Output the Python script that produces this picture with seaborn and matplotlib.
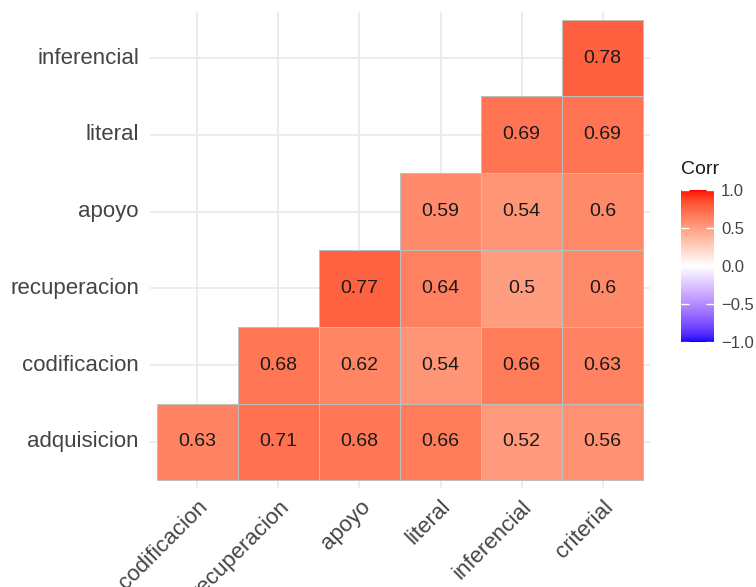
import numpy as np
import pandas as pd
import matplotlib
matplotlib.use("Agg")
import matplotlib.pyplot as plt
from matplotlib.colors import ListedColormap, to_rgba
import seaborn as sns

cols = ["codificacion", "recuperacion", "apoyo", "literal", "inferencial", "criterial"]
rows = ["inferencial", "literal", "apoyo", "recuperacion", "codificacion", "adquisicion"]
r_inferencial = [np.nan, np.nan, np.nan, np.nan, np.nan, 0.78]
r_literal = [np.nan, np.nan, np.nan, np.nan, 0.69, 0.69]
r_apoyo = [np.nan, np.nan, np.nan, 0.59, 0.54, 0.60]
r_recuperacion = [np.nan, np.nan, 0.77, 0.64, 0.50, 0.60]
r_codificacion = [np.nan, 0.68, 0.62, 0.54, 0.66, 0.63]
r_adquisicion = [0.63, 0.71, 0.68, 0.66, 0.52, 0.56]

corr = pd.DataFrame([r_inferencial, r_literal, r_apoyo, r_recuperacion,
                     r_codificacion, r_adquisicion], index=rows, columns=cols)


# blue-white-red gradient interpolated in CIELAB, like ggplot's gradient2
def lab_to_rgb(lab):
    L, a, b = lab[:, 0], lab[:, 1], lab[:, 2]
    fy = (L + 16) / 116
    fx = fy + a / 500
    fz = fy - b / 200

    def finv(t):
        d = 6 / 29
        return np.where(t > d, t ** 3, 3 * d * d * (t - 4 / 29))

    xyz = np.stack([0.95047 * finv(fx), finv(fy), 1.08883 * finv(fz)], axis=1)
    m = np.array([[3.2406, -1.5372, -0.4986],
                  [-0.9689, 1.8758, 0.0415],
                  [0.0557, -0.2040, 1.0570]])
    lin = xyz @ m.T
    lin = np.clip(lin, 0, 1)
    rgb = np.where(lin <= 0.0031308, 12.92 * lin, 1.055 * lin ** (1 / 2.4) - 0.055)
    return np.clip(rgb, 0, 1)


blue = np.array([32.30, 79.19, -107.86])
white = np.array([100.0, 0.0, 0.0])
red = np.array([53.24, 80.09, 67.20])
t = np.linspace(0, 1, 128)[:, None]
labs = np.vstack([blue + (white - blue) * t, white + (red - white) * t])
cmap = ListedColormap(lab_to_rgb(labs))

plt.rcParams["font.family"] = ["Liberation Sans", "DejaVu Sans"]

fig = plt.figure(figsize=(7.56, 5.87), dpi=100)
ax = fig.add_axes([150 / 756, 99 / 587, 500 / 756, 476 / 587])
cax = fig.add_axes([681 / 756, 245 / 587, 33 / 756, 152 / 587])

sns.heatmap(corr, ax=ax, cmap=cmap, vmin=-1, vmax=1, annot=True, fmt="g",
            annot_kws={"fontsize": 14, "color": "#1a1a1a"},
            linewidths=0.5, linecolor="#bebebe", cbar_ax=cax,
            cbar_kws={"ticks": [-1, -0.5, 0, 0.5, 1]})

# no outline on the empty upper triangle
mesh = ax.collections[0]
empty = corr.isna().values.ravel()
edge = np.array([to_rgba("#bebebe")] * len(empty))
edge[empty] = (0, 0, 0, 0)
mesh.set_edgecolors(edge)

ax.set_xlim(-0.086, 6.086)
ax.set_ylim(6.1, -0.1)
ax.set_axisbelow(True)
ax.grid(True, color="#ebebeb", linewidth=1.3)
for s in ax.spines.values():
    s.set_visible(False)
ax.set_xlabel("")
ax.set_ylabel("")
ax.tick_params(length=0, labelsize=16, labelcolor="#444444", pad=8)
ax.set_yticklabels(rows, rotation=0)
ax.set_xticklabels(cols, rotation=45, ha="right", va="top", rotation_mode="anchor")
ax.tick_params(axis="x", pad=6)

cbar = mesh.colorbar
cbar.outline.set_visible(False)
cbar.ax.set_yticklabels(["\u22121.0", "\u22120.5", "0.0", "0.5", "1.0"])
cbar.ax.tick_params(direction="in", color="white", length=6, width=1,
                    labelsize=12, labelcolor="#444444", left=True, pad=5)
fig.text(681 / 756, 1 - 170 / 587, "Corr", fontsize=14, ha="left", va="center",
         color="#1a1a1a")

fig.savefig("out.png", dpi=100)
